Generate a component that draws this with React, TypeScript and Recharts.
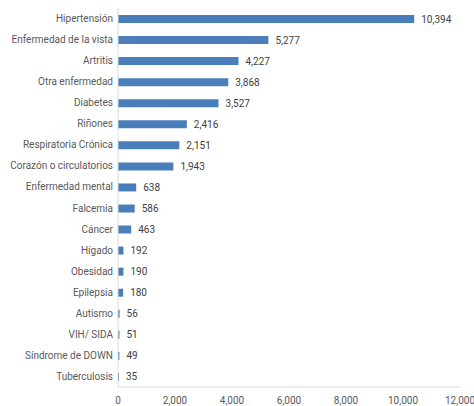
import React from 'react';
import { BarChart, Bar, XAxis, YAxis, LabelList } from 'recharts';

const categories = [
  'Hipertensión', 'Enfermedad de la vista', 'Artritis', 'Otra enfermedad', 'Diabetes',
  'Riñones', 'Respiratoria Crónica', 'Corazón o circulatorios', 'Enfermedad mental',
  'Falcemia', 'Cáncer', 'Hígado', 'Obesidad', 'Epilepsia', 'Autismo', 'VIH/ SIDA',
  'Síndrome de DOWN', 'Tuberculosis',
];
const values = [10394, 5277, 4227, 3868, 3527, 2416, 2151, 1943, 638, 586, 463, 192, 190, 180, 56, 51, 49, 35];
const xTicks = [0, 2000, 4000, 6000, 8000, 10000, 12000];

const data = categories.map((name, i) => ({ name, value: values[i] }));
const fmt = (v: number) => v.toLocaleString('en-US');

const YTick = (props: any) => {
  const { x, y, payload } = props;
  return (
    <text x={x} y={y} dy={3.5} textAnchor="end" fontSize={10} fill="#595959" fontFamily="Roboto">
      {payload.value}
    </text>
  );
};

export default function App() {
  return (
    <div style={{ position: 'absolute', left: 0, top: 0, fontFamily: 'Roboto' }}>
      <BarChart
        width={474}
        height={406}
        data={data}
        layout="vertical"
        margin={{ top: 8, right: 14, bottom: 0, left: 0 }}
      >
        <XAxis
          type="number"
          domain={[0, 12000]}
          ticks={xTicks}
          tickFormatter={fmt}
          height={19}
          tickLine={false}
          tickSize={0}
          tickMargin={10}
          axisLine={{ stroke: '#d9d9d9' }}
          tick={{ fontSize: 10, fill: '#595959', fontFamily: 'Roboto' }}
          interval={0}
        />
        <YAxis
          type="category"
          dataKey="name"
          width={118}
          tickLine={false}
          tickSize={0}
          tickMargin={5}
          axisLine={{ stroke: '#d9d9d9' }}
          tick={<YTick />}
          interval={0}
        />
        <Bar dataKey="value" fill="#4a7ebb" barSize={8} isAnimationActive={false}>
          <LabelList
            dataKey="value"
            position="right"
            offset={7}
            formatter={(v: any) => fmt(Number(v))}
            style={{ fontSize: 10, fill: '#404040', fontFamily: 'Roboto' }}
          />
        </Bar>
      </BarChart>
    </div>
  );
}
